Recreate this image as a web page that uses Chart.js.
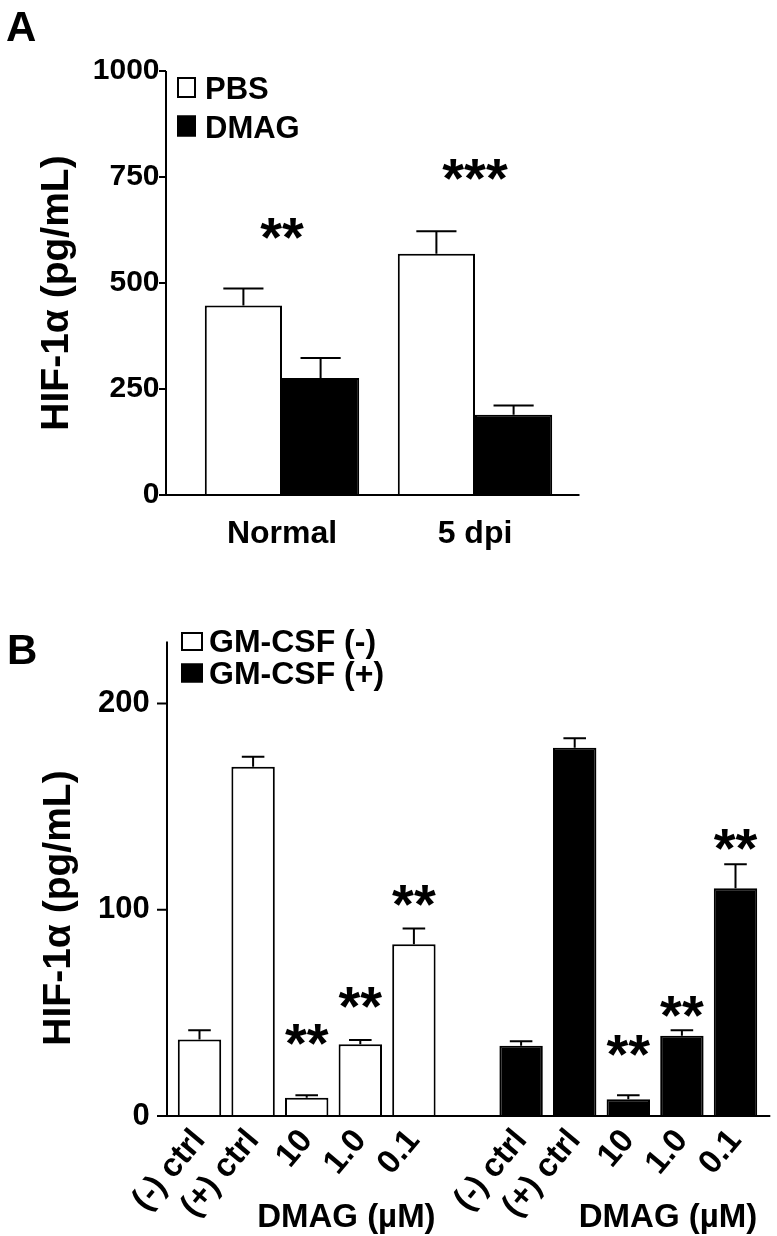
<!DOCTYPE html>
<html><head><meta charset="utf-8">
<script src="https://cdn.jsdelivr.net/npm/chart.js@4/dist/chart.umd.min.js"></script>
<style>
html,body{margin:0;padding:0;background:#fff;}
#wrap{position:relative;width:777px;height:1236px;overflow:hidden;}
canvas{position:absolute;left:0;}
#ca{top:0;} #cb{top:600px;}
</style></head><body>
<div id="wrap"><canvas id="ca" width="777" height="600"></canvas><canvas id="cb" width="777" height="636"></canvas></div>
<script>
// ---------- Panel A data ----------
const groupsA = ['Normal', '5 dpi'];
const seriesA = ['PBS', 'DMAG'];
const pbsVals = [447, 569];
const pbsErr = [40, 53];
const dmagVals = [276, 189];
const dmagErr = [47, 22];
const starsA = ['**', '***'];
const starLevelA = [628, 767];
const ticksA = [0, 250, 500, 750, 1000];

// ---------- Panel B data ----------
const doseLabels = ['(-) ctrl', '(+) ctrl', '10', '1.0', '0.1'];
const seriesB = ['GM-CSF (-)', 'GM-CSF (+)'];
const gmNegVals = [37.1, 169.3, 8.8, 34.8, 83.3];
const gmNegErr = [4.5, 4.9, 1.2, 2.1, 7.6];
const gmPosVals = [34.1, 178.5, 8.1, 38.9, 110.4];
const gmPosErr = [2.2, 4.6, 1.9, 2.7, 11.6];
const starsNeg = ['', '', '**', '**', '**'];
const starLevelNeg = [null, null, 39.7, 57.4, 107];
const starsPos = ['', '', '**', '**', '**'];
const starLevelPos = [null, null, 34.4, 53.2, 134];
const ticksB = [0, 100, 200];
const groupTitleB = 'DMAG (µM)';
const yTitle = 'HIF-1α (pg/mL)';
const panelLetters = ['A', 'B'];

const FONT = "'Liberation Sans', Arial, Helvetica, sans-serif";
Chart.defaults.font.family = FONT;
Chart.defaults.font.weight = 'bold';
Chart.defaults.color = '#000';
const font = s => 'bold ' + s + 'px ' + FONT;

const annotPlugin = {
  id: 'annot',
  afterDatasetsDraw(chart, args, o) {
    const ctx = chart.ctx, ca = chart.chartArea, xs = chart.scales.x, ys = chart.scales.y;
    ctx.save();
    ctx.strokeStyle = '#000'; ctx.fillStyle = '#000'; ctx.lineWidth = 2;
    // error bars (upper only)
    o.errors.forEach((errs, di) => {
      const meta = chart.getDatasetMeta(di);
      const vals = chart.data.datasets[di].data;
      meta.data.forEach((bar, j) => {
        if (vals[j] == null || errs[j] == null) return;
        const yTop = ys.getPixelForValue(vals[j] + errs[j]);
        const half = bar.width * 0.26;
        ctx.beginPath();
        ctx.moveTo(bar.x, bar.y); ctx.lineTo(bar.x, yTop);
        ctx.moveTo(bar.x - half, yTop); ctx.lineTo(bar.x + half, yTop);
        ctx.stroke();
      });
    });
    // axes
    const ax = ca.left - o.axisGap;
    ctx.beginPath();
    ctx.moveTo(ax, ca.top); ctx.lineTo(ax, ca.bottom);
    ctx.moveTo(ax - o.tickLen, ca.bottom); ctx.lineTo(ca.right + o.xExtend, ca.bottom);
    ys.ticks.forEach(t => { const y = ys.getPixelForValue(t.value); ctx.moveTo(ax - o.tickLen, y); ctx.lineTo(ax, y); });
    ctx.stroke();
    // significance stars
    ctx.font = font(o.starSize); ctx.textAlign = 'center'; ctx.textBaseline = 'alphabetic';
    const m = ctx.measureText('*');
    const shift = (m.actualBoundingBoxAscent - m.actualBoundingBoxDescent) / 2;
    o.stars.forEach(s => {
      if (!s.text || s.level == null) return;
      const x = s.ds == null ? xs.getPixelForValue(s.idx) : chart.getDatasetMeta(s.ds).data[s.idx].x;
      ctx.fillText(s.text, x, ys.getPixelForValue(s.level) + shift);
    });
    // legend
    const L = o.legend;
    ctx.font = font(L.size); ctx.textAlign = 'left';
    chart.data.datasets.forEach((ds, i) => {
      const by = L.boxTop + i * L.dy;
      ctx.fillStyle = ds.backgroundColor; ctx.fillRect(L.x, by, L.w, L.h);
      ctx.strokeRect(L.x + 1, by + 1, L.w - 2, L.h - 2);
      ctx.fillStyle = '#000';
      ctx.fillText(ds.label, L.textX, L.baseline + i * L.dy);
    });
    // group titles
    if (o.groupTitle) {
      ctx.font = font(o.groupTitle.size); ctx.textAlign = 'right';
      chart.data.datasets.forEach((ds, i) => {
        const meta = chart.getDatasetMeta(i);
        let lastIdx = -1; ds.data.forEach((v, j) => { if (v != null) lastIdx = j; });
        const bar = meta.data[lastIdx];
        ctx.fillText(o.groupTitle.text, bar.x + bar.width / 2, o.groupTitle.baseline);
      });
    }
    // panel letter
    ctx.font = font(o.letter.size); ctx.textAlign = 'left';
    ctx.fillText(o.letter.text, o.letter.x, o.letter.baseline);
    // y title
    ctx.save();
    ctx.translate(o.yTitle.x, o.yTitle.y); ctx.rotate(-Math.PI / 2);
    ctx.font = font(o.yTitle.size); ctx.textAlign = 'center';
    ctx.fillText(o.yTitle.text, 0, 0);
    ctx.restore();
    ctx.restore();
  }
};

// ---------- Chart A ----------
new Chart(document.getElementById('ca'), {
  type: 'bar',
  data: {
    labels: groupsA,
    datasets: [
      { label: seriesA[0], data: pbsVals, backgroundColor: '#ffffff', borderColor: '#000', borderWidth: 2, borderSkipped: 'bottom' },
      { label: seriesA[1], data: dmagVals, backgroundColor: '#000000', borderColor: '#000', borderWidth: 2, borderSkipped: 'bottom' }
    ]
  },
  options: {
    responsive: false, animation: false, events: [],
    layout: { padding: { left: 0, top: 71, right: 205.5, bottom: 0 } },
    datasets: { bar: { categoryPercentage: 0.8, barPercentage: 1 } },
    plugins: {
      legend: { display: false }, tooltip: { enabled: false },
      annot: {
        errors: [pbsErr, dmagErr],
        axisGap: 19.5, tickLen: 7, xExtend: 8,
        starSize: 56,
        stars: starsA.map((t, i) => ({ text: t, level: starLevelA[i], ds: null, idx: i })),
        legend: { x: 177, boxTop: 77, w: 19, h: 21, dy: 38.5, textX: 205, baseline: 99, size: 31 },
        letter: { text: panelLetters[0], x: 6, baseline: 41, size: 42 },
        yTitle: { text: yTitle, x: 68, y: 293, size: 39 }
      }
    },
    scales: {
      x: {
        grid: { display: false, drawTicks: false }, border: { display: false },
        ticks: { padding: 20, color: '#000', font: { size: 32, weight: 'bold' } },
        afterFit(s) { s.height = 105; }
      },
      y: {
        min: 0, max: 1000,
        afterBuildTicks(s) { s.ticks = ticksA.map(v => ({ value: v })); },
        grid: { display: false, drawTicks: false }, border: { display: false },
        ticks: { padding: 26, color: '#000', font: { size: 30, weight: 'bold' }, callback: v => String(v) },
        afterFit(s) { s.width = 185.5; }
      }
    }
  },
  plugins: [annotPlugin]
});

// ---------- Chart B ----------
const labelsB = [...doseLabels, '', ...doseLabels];
const padLeft = a => [...a, null, ...a.map(() => null)];
const padRight = a => [...a.map(() => null), null, ...a];
const starObjs = [];
starsNeg.forEach((t, i) => starObjs.push({ text: t, level: starLevelNeg[i], ds: 0, idx: i }));
starsPos.forEach((t, i) => starObjs.push({ text: t, level: starLevelPos[i], ds: 1, idx: i + doseLabels.length + 1 }));

new Chart(document.getElementById('cb'), {
  type: 'bar',
  data: {
    labels: labelsB,
    datasets: [
      { label: seriesB[0], data: padLeft(gmNegVals), backgroundColor: '#ffffff', borderColor: '#000', borderWidth: 2, borderSkipped: 'bottom' },
      { label: seriesB[1], data: padRight(gmPosVals), backgroundColor: '#000000', borderColor: '#000', borderWidth: 2, borderSkipped: 'bottom' }
    ]
  },
  options: {
    responsive: false, animation: false, events: [],
    layout: { padding: { left: 0, top: 21, right: 14.7, bottom: 0 } },
    datasets: { bar: { categoryPercentage: 1, barPercentage: 0.81, grouped: false } },
    plugins: {
      legend: { display: false }, tooltip: { enabled: false },
      annot: {
        errors: [padLeft(gmNegErr), padRight(gmPosErr)],
        axisGap: 5.7, tickLen: 10, xExtend: 8,
        starSize: 56,
        stars: starObjs,
        legend: { x: 181, boxTop: 32, w: 22, h: 19, dy: 31.5, textX: 209, baseline: 52, size: 32 },
        groupTitle: { text: groupTitleB, baseline: 627, size: 33 },
        letter: { text: panelLetters[1], x: 7, baseline: 64, size: 42 },
        yTitle: { text: yTitle, x: 70, y: 908 - 600, size: 39 }
      }
    },
    scales: {
      x: {
        grid: { display: false, drawTicks: false }, border: { display: false },
        ticks: { padding: 6, minRotation: 50, maxRotation: 50, autoSkip: false, color: '#000', font: { size: 33, weight: 'bold' } },
        afterFit(s) { s.height = 120; }
      },
      y: {
        min: 0, max: 230,
        afterBuildTicks(s) { s.ticks = ticksB.map(v => ({ value: v })); },
        grid: { display: false, drawTicks: false }, border: { display: false },
        ticks: { padding: 23, color: '#000', font: { size: 31, weight: 'bold' }, callback: v => String(v) },
        afterFit(s) { s.width = 172.7; }
      }
    }
  },
  plugins: [annotPlugin]
});
</script>
</body></html>
